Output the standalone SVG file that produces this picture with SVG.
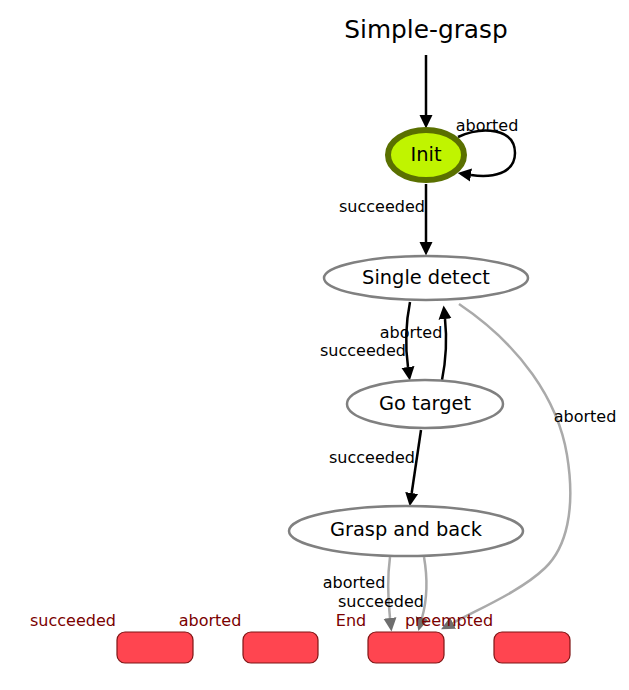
<svg xmlns="http://www.w3.org/2000/svg" width="629" height="690" viewBox="0 0 629 690">
<style>
text{font-family:"DejaVu Sans","Liberation Sans",sans-serif;text-anchor:middle;}
.title{font-size:24.8px;fill:#000;}
.nl{font-size:19.4px;fill:#000;}
.el{font-size:16px;fill:#000;}
.ol{font-size:16px;fill:#7a0000;}
.state{fill:#fff;stroke:#808080;stroke-width:2.5;}
.init{fill:#c0f400;stroke:#5a7000;stroke-width:6;}
.out{fill:#ff4550;stroke:#7f1515;stroke-width:1.2;}
.e{fill:none;stroke:#000;stroke-width:2.5;}
.g{fill:none;stroke:#aaaaaa;stroke-width:2.5;}
</style>
<defs>
<marker id="ab" markerUnits="userSpaceOnUse" viewBox="0 -7 14 14" markerWidth="14" markerHeight="14" refX="0" refY="0" orient="auto">
<path d="M0,-6.5 L13.5,0 L0,6.5 z" fill="#000"/>
</marker>
<marker id="ag" markerUnits="userSpaceOnUse" viewBox="0 -7 14 14" markerWidth="14" markerHeight="14" refX="0" refY="0" orient="auto">
<path d="M0,-6.5 L13.5,0 L0,6.5 z" fill="#6e6e6e"/>
</marker>
</defs>
<text class="title" x="426" y="38">Simple-grasp</text>
<g id="connectors">
<path class="e" d="M426,55 L426,115" marker-end="url(#ab)"/>
<path class="e" d="M458,137 C482,126 515,128 515,153 C515,174 492,178 471,175" marker-end="url(#ab)"/>
<path class="e" d="M426,184 L426,242" marker-end="url(#ab)"/>
<path class="e" d="M410,302 C406,322 405,345 408,367" marker-end="url(#ab)"/>
<path class="e" d="M442,380 C446,360 447,338 445,319" marker-end="url(#ab)"/>
<path class="e" d="M421,430 L411.7,493" marker-end="url(#ab)"/>
<path class="g" d="M459,304 C520,345 558,400 567,455 C576,510 566,548 545,568 C522,590 485,606 453,623" marker-end="url(#ag)"/>
<path class="g" d="M390,557 C387,580 388,600 390,618" marker-end="url(#ag)"/>
<path class="g" d="M424,557 C428,580 427,600 422,618" marker-end="url(#ag)"/>
</g>
<g id="edge-labels">
<text class="el" x="487" y="131">aborted</text>
<text class="el" x="382" y="212">succeeded</text>
<text class="el" x="411" y="338">aborted</text>
<text class="el" x="363" y="356">succeeded</text>
<text class="el" x="585" y="422">aborted</text>
<text class="el" x="372" y="463">succeeded</text>
<text class="el" x="354" y="588">aborted</text>
<text class="el" x="381" y="607">succeeded</text>
</g>
<g id="init"><ellipse class="init" cx="426" cy="155" rx="38" ry="25"/><text class="nl" x="426" y="161">Init</text></g>
<g id="single-detect"><ellipse class="state" cx="426" cy="278" rx="102" ry="22"/><text class="nl" x="426" y="284">Single detect</text></g>
<g id="go-target"><ellipse class="state" cx="425" cy="404" rx="78" ry="24"/><text class="nl" x="425" y="410">Go target</text></g>
<g id="grasp-and-back"><ellipse class="state" cx="406" cy="531" rx="117" ry="25"/><text class="nl" x="406" y="536">Grasp and back</text></g>
<g id="outcome-succeeded"><rect class="out" x="117" y="632" width="76" height="31" rx="8"/><text class="ol" x="73" y="626">succeeded</text></g>
<g id="outcome-aborted"><rect class="out" x="243" y="632" width="75" height="31" rx="8"/><text class="ol" x="210" y="626">aborted</text></g>
<g id="outcome-end"><rect class="out" x="368" y="632" width="76" height="31" rx="8"/><text class="ol" x="351" y="626">End</text></g>
<g id="outcome-preempted"><rect class="out" x="494" y="632" width="76" height="31" rx="8"/><text class="ol" x="449" y="626">preempted</text></g>
</svg>
